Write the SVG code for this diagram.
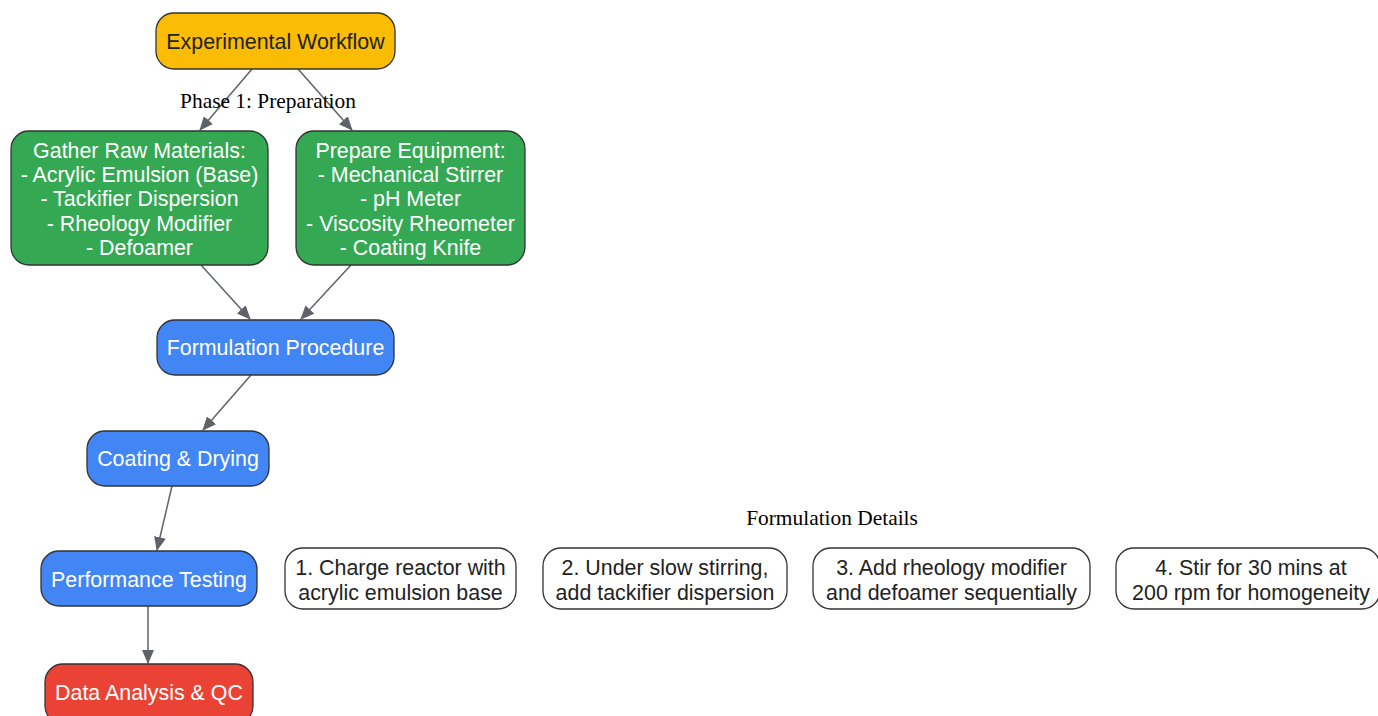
<svg xmlns="http://www.w3.org/2000/svg" width="1378" height="716" viewBox="0 0 1378 716">
<defs>
<marker id="ah" viewBox="0 0 14 12" refX="13" refY="6" markerWidth="14" markerHeight="12" markerUnits="userSpaceOnUse" orient="auto">
<path d="M0,0 L14,6 L0,12 Z" fill="#5f6368"/>
</marker>
</defs>
<style>
.n{stroke:#333;stroke-width:1.3}
.t{font-family:"Liberation Sans",Arial,sans-serif;font-size:21.4px;text-anchor:middle;dominant-baseline:central}
.w{fill:#fff}
.k{fill:#222}
.lbl{font-family:"Liberation Serif","Times New Roman",serif;font-size:21.4px;text-anchor:middle;fill:#000}
.e{stroke:#5f6368;stroke-width:1.5;fill:none;marker-end:url(#ah)}
</style>
<rect width="1378" height="716" fill="#fff"/>
<g id="connectors">
<line class="e" x1="252" y1="69" x2="200" y2="130"/>
<line class="e" x1="298" y1="69" x2="352" y2="130"/>
<line class="e" x1="201" y1="265" x2="250" y2="319"/>
<line class="e" x1="351" y1="265" x2="301" y2="319"/>
<line class="e" x1="251" y1="375" x2="203" y2="430"/>
<line class="e" x1="172" y1="486" x2="157" y2="550"/>
<line class="e" x1="148" y1="606" x2="148" y2="663"/>
</g>
<text class="lbl" x="268" y="108">Phase 1: Preparation</text>
<text class="lbl" x="832" y="525">Formulation Details</text>
<g id="workflow">
<rect class="n" x="156" y="13" width="239" height="56" rx="18" fill="#FBBC04"/>
<text class="t k" x="275.5" y="42">Experimental Workflow</text>
</g>
<g id="materials">
<rect class="n" x="11" y="131" width="257" height="134" rx="18" fill="#34A853"/>
<text class="t w" x="139.5" y="151">Gather Raw Materials:</text>
<text class="t w" x="139.5" y="175">- Acrylic Emulsion (Base)</text>
<text class="t w" x="139.5" y="199">- Tackifier Dispersion</text>
<text class="t w" x="139.5" y="224">- Rheology Modifier</text>
<text class="t w" x="139.5" y="248">- Defoamer</text>
</g>
<g id="equipment">
<rect class="n" x="296" y="131" width="229" height="134" rx="18" fill="#34A853"/>
<text class="t w" x="410.5" y="151">Prepare Equipment:</text>
<text class="t w" x="410.5" y="175">- Mechanical Stirrer</text>
<text class="t w" x="410.5" y="199">- pH Meter</text>
<text class="t w" x="410.5" y="224">- Viscosity Rheometer</text>
<text class="t w" x="410.5" y="248">- Coating Knife</text>
</g>
<g id="formulation">
<rect class="n" x="157" y="320" width="237" height="55" rx="18" fill="#4285F4"/>
<text class="t w" x="275.5" y="348">Formulation Procedure</text>
</g>
<g id="coating">
<rect class="n" x="87" y="431" width="182" height="55" rx="18" fill="#4285F4"/>
<text class="t w" x="178" y="459">Coating &amp; Drying</text>
</g>
<g id="testing">
<rect class="n" x="41" y="551" width="216" height="55" rx="18" fill="#4285F4"/>
<text class="t w" x="149" y="580">Performance Testing</text>
</g>
<g id="analysis">
<rect class="n" x="45" y="664" width="208" height="60" rx="18" fill="#EA4335"/>
<text class="t w" x="149" y="693">Data Analysis &amp; QC</text>
</g>
<g id="step1">
<rect class="n" x="285" y="548" width="231" height="61" rx="18" fill="#fff"/>
<text class="t k" x="400.5" y="568">1. Charge reactor with</text>
<text class="t k" x="400.5" y="593">acrylic emulsion base</text>
</g>
<g id="step2">
<rect class="n" x="543" y="548" width="244" height="61" rx="18" fill="#fff"/>
<text class="t k" x="665" y="568">2. Under slow stirring,</text>
<text class="t k" x="665" y="593">add tackifier dispersion</text>
</g>
<g id="step3">
<rect class="n" x="813" y="548" width="277" height="61" rx="18" fill="#fff"/>
<text class="t k" x="951.5" y="568">3. Add rheology modifier</text>
<text class="t k" x="951.5" y="593">and defoamer sequentially</text>
</g>
<g id="step4">
<rect class="n" x="1116" y="548" width="264" height="61" rx="18" fill="#fff"/>
<text class="t k" x="1251" y="568">4. Stir for 30 mins at</text>
<text class="t k" x="1251" y="593">200 rpm for homogeneity</text>
</g>
</svg>
